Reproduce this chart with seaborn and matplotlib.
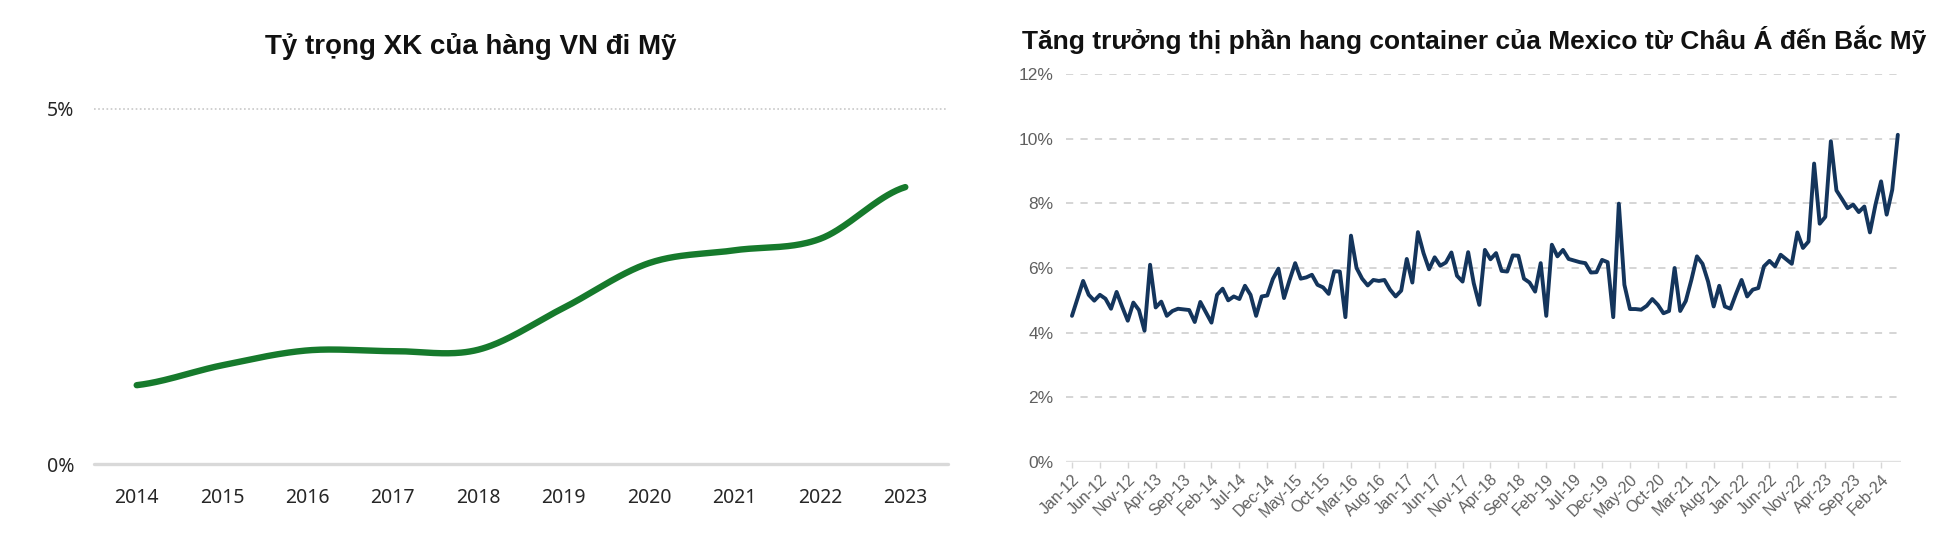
import numpy as np
import pandas as pd
import matplotlib
matplotlib.use("Agg")
import matplotlib.pyplot as plt
from matplotlib.ticker import FuncFormatter
import seaborn as sns

# Left chart: share of Vietnam exports going to the US (%)
years = [2014, 2015, 2016, 2017, 2018, 2019, 2020, 2021, 2022, 2023]
vn_share = [1.11, 1.39, 1.60, 1.59, 1.61, 2.20, 2.83, 3.01, 3.17, 3.90]

# Right chart: Mexico's share of Asia -> North America container volume (%), monthly Jan-12 .. May-24
month_labels = ["Jan-12", "Jun-12", "Nov-12", "Apr-13", "Sep-13", "Feb-14", "Jul-14", "Dec-14",
                "May-15", "Oct-15", "Mar-16", "Aug-16", "Jan-17", "Jun-17", "Nov-17", "Apr-18",
                "Sep-18", "Feb-19", "Jul-19", "Dec-19", "May-20", "Oct-20", "Mar-21", "Aug-21",
                "Jan-22", "Jun-22", "Nov-22", "Apr-23", "Sep-23", "Feb-24"]
mexico_share = [
    4.52, 5.06, 5.60, 5.17, 4.99, 5.17, 5.05, 4.74, 5.26, 4.80,
    4.37, 4.93, 4.70, 4.06, 6.10, 4.78, 4.96, 4.52, 4.67, 4.74,
    4.72, 4.70, 4.33, 4.95, 4.63, 4.31, 5.17, 5.36, 5.00, 5.12,
    5.04, 5.45, 5.17, 4.52, 5.12, 5.15, 5.66, 5.98, 5.07, 5.63,
    6.15, 5.67, 5.71, 5.79, 5.48, 5.40, 5.20, 5.90, 5.89, 4.48,
    7.00, 6.00, 5.67, 5.46, 5.63, 5.60, 5.63, 5.33, 5.12, 5.30,
    6.28, 5.55, 7.11, 6.46, 5.96, 6.33, 6.07, 6.17, 6.48, 5.76,
    5.58, 6.49, 5.53, 4.86, 6.56, 6.27, 6.46, 5.91, 5.89, 6.39,
    6.38, 5.67, 5.55, 5.27, 6.15, 4.52, 6.72, 6.36, 6.56, 6.28,
    6.23, 6.18, 6.15, 5.86, 5.87, 6.25, 6.18, 4.48, 7.99, 5.48,
    4.73, 4.73, 4.71, 4.83, 5.04, 4.86, 4.60, 4.67, 6.00, 4.67,
    4.98, 5.63, 6.36, 6.13, 5.58, 4.81, 5.45, 4.81, 4.74, 5.20,
    5.63, 5.12, 5.33, 5.38, 6.05, 6.22, 6.05, 6.41, 6.27, 6.13,
    7.10, 6.62, 6.82, 9.23, 7.37, 7.58, 9.92, 8.40, 8.13, 7.85,
    7.96, 7.73, 7.90, 7.10, 7.96, 8.68, 7.65, 8.42, 10.12,
]


def smooth(x, y, n=40):
    # Catmull-Rom style smoothing, like a "smoothed line" in spreadsheet charts
    x = np.asarray(x, float)
    y = np.asarray(y, float)
    yp = np.r_[y[0], y, y[-1]]
    xs, ys = [], []
    for i in range(len(y) - 1):
        t = np.linspace(0, 1, n, endpoint=(i == len(y) - 2))
        m0 = (yp[i + 2] - yp[i]) / 2
        m1 = (yp[i + 3] - yp[i + 1]) / 2
        h00 = 2 * t**3 - 3 * t**2 + 1
        h10 = t**3 - 2 * t**2 + t
        h01 = -2 * t**3 + 3 * t**2
        h11 = t**3 - t**2
        ys.append(h00 * y[i] + h10 * m0 + h01 * y[i + 1] + h11 * m1)
        xs.append(x[i] + t * (x[i + 1] - x[i]))
    return np.concatenate(xs), np.concatenate(ys)


sns.set_theme(style="white")
plt.rcParams["font.family"] = ["Noto Sans", "DejaVu Sans"]
title_font = ["Liberation Sans", "DejaVu Sans"]

W, H = 1957, 537
fig = plt.figure(figsize=(W / 100, H / 100), dpi=100)

# ---- left chart ----
ax1 = fig.add_axes([94 / W, 1 - 464 / H, (948 - 94) / W, (464 - 109) / H])
sx, sy = smooth(years, vn_share)
smooth_df = pd.DataFrame({"year": sx, "share": sy})
sns.lineplot(data=smooth_df, x="year", y="share", ax=ax1, color="#167A2C",
             linewidth=4.6, sort=False, solid_capstyle="round")
ax1.set_xlim(2013.5, 2023.5)
ax1.set_ylim(0, 5)
ax1.axhline(5, color="#c8c8c8", lw=1.2, ls=(0, (1, 1.5)), clip_on=False, zorder=0)
ax1.axhline(0, color="#d9d9d9", lw=2.4, clip_on=False, zorder=0)
ax1.set_xticks(years)
ax1.set_xticklabels([str(y) for y in years])
ax1.set_yticks([0, 5])
ax1.yaxis.set_major_formatter(FuncFormatter(lambda v, p: f"{v:.0f}%"))
ax1.tick_params(axis="both", length=0, labelsize=14, colors="#262626")
ax1.tick_params(axis="x", pad=17)
ax1.tick_params(axis="y", pad=14)
for s in ax1.spines.values():
    s.set_visible(False)
ax1.set_xlabel("")
ax1.set_ylabel("")
fig.text(471 / W, 1 - 46 / H, "Tỷ trọng XK của hàng VN đi Mỹ", ha="center", va="center",
         fontsize=20, fontweight="bold", family=title_font, color="#111111")

# ---- right chart ----
ax2 = fig.add_axes([1066 / W, 1 - 462 / H, (1901 - 1066) / W, (462 - 74) / H])
mx_df = pd.DataFrame({"month": np.arange(len(mexico_share)), "share": mexico_share})
ax2.set_axisbelow(True)
for v in range(2, 14, 2):
    ax2.axhline(v, color="#d2d2d2", lw=1.3, ls=(0, (4, 4)), zorder=0)
ax2.axhline(0, color="#e0e0e0", lw=2.4, zorder=0)
sns.lineplot(data=mx_df, x="month", y="share", ax=ax2, color="#14355C", linewidth=2.8)
ax2.set_xlim(-1.07, 148.57)
ax2.set_ylim(0, 12)
ax2.set_yticks(range(0, 13, 2))
ax2.yaxis.set_major_formatter(FuncFormatter(lambda v, p: f"{v:.0f}%"))
ax2.set_xticks(range(0, len(month_labels) * 5, 5))
ax2.set_xticklabels(month_labels, rotation=45, ha="right", rotation_mode="anchor",
                    family=["Liberation Sans", "DejaVu Sans"])
for lab in ax2.get_yticklabels():
    lab.set_family(["Liberation Sans", "DejaVu Sans"])
ax2.tick_params(axis="y", length=0, labelsize=12.5, colors="#5f5f5f", pad=9)
ax2.tick_params(axis="x", length=4, width=1, color="#d6d6d6", labelsize=11.5,
                labelcolor="#5f5f5f", pad=3, bottom=True)
for s in ax2.spines.values():
    s.set_visible(False)
ax2.set_xlabel("")
ax2.set_ylabel("")
fig.text(1474 / W, 1 - 40 / H, "Tăng trưởng thị phần hang container của Mexico từ Châu Á đến Bắc Mỹ",
         ha="center", va="center", fontsize=19, fontweight="bold", family=title_font,
         color="#111111")

fig.savefig("out.png", dpi=100, facecolor="white")
